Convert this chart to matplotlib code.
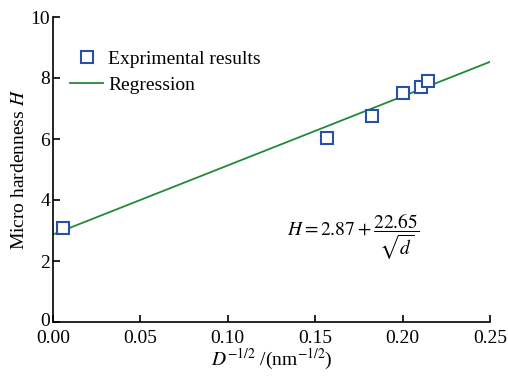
#!/usr/bin/env python3
'''Micro hardness vs D^-1/2 with the linear regression line.'''
import matplotlib
matplotlib.use('Agg')
import matplotlib.pyplot as plt
import matplotlib.transforms as mtransforms

# measured points
d_inv_sqrt = [0.0057, 0.157, 0.1825, 0.2002, 0.2105, 0.2145]
hardness = [3.08, 6.03, 6.75, 7.52, 7.72, 7.90]

# regression H = 2.87 + 22.65/sqrt(d), end points
reg_x = [0.0, 0.25]
reg_y = [2.87, 8.53]

plt.rcParams['font.family'] = ['Liberation Serif', 'DejaVu Serif']
plt.rcParams['mathtext.fontset'] = 'stix'

fig = plt.figure(figsize=(5.08, 3.76), dpi=100)
ax = fig.add_axes([53 / 508, 54 / 376, 437 / 508, 305 / 376])

ax.plot(reg_x, reg_y, color='#23883a', lw=1.3, label='Regression', zorder=2)
ax.plot(d_inv_sqrt, hardness, ls='none', marker='s', ms=8.5, mfc='white',
        mec='#2850a8', mew=1.5, label='Exprimental results', zorder=3)

ax.set_xlim(0, 0.25)
ax.set_ylim(0, 10)
ax.set_xticks([0, 0.05, 0.10, 0.15, 0.20, 0.25])
ax.set_xticklabels(['0.00', '0.05', '0.10', '0.15', '0.20', '0.25'])
ax.set_yticks([0, 2, 4, 6, 8, 10])
ax.spines['top'].set_visible(False)
ax.spines['right'].set_visible(False)
ax.spines['left'].set_linewidth(1.2)
ax.spines['bottom'].set_linewidth(1.2)
ax.tick_params(direction='in', length=5, width=1.2, labelsize=14)
ax.tick_params(axis='x', pad=6)
ax.tick_params(axis='y', pad=2)

# nudge the "0" on the y axis up a touch so it clears "0.00"
zero_lbl = ax.get_yticklabels()[0]
zero_lbl.set_transform(zero_lbl.get_transform() +
                       mtransforms.ScaledTranslation(0, 2 / 72, fig.dpi_scale_trans))

ax.set_xlabel(r'$D^{-1/2}$ /(nm$^{-1/2}$)', fontsize=14, labelpad=0)
ax.set_ylabel(r'Micro hardenness $H$', fontsize=14, labelpad=2)

h, l = ax.get_legend_handles_labels()
ax.legend(h[::-1], l[::-1], loc='upper left', bbox_to_anchor=(0.022, 0.917),
          frameon=False, fontsize=14, handlelength=1.7, handletextpad=0.25,
          labelspacing=0.45, borderaxespad=0)

ax.text(0.535, 0.28, r'$H = 2.87+\dfrac{22.65}{\sqrt{d}}$', transform=ax.transAxes,
        fontsize=14)

fig.savefig('out.png', dpi=100)
